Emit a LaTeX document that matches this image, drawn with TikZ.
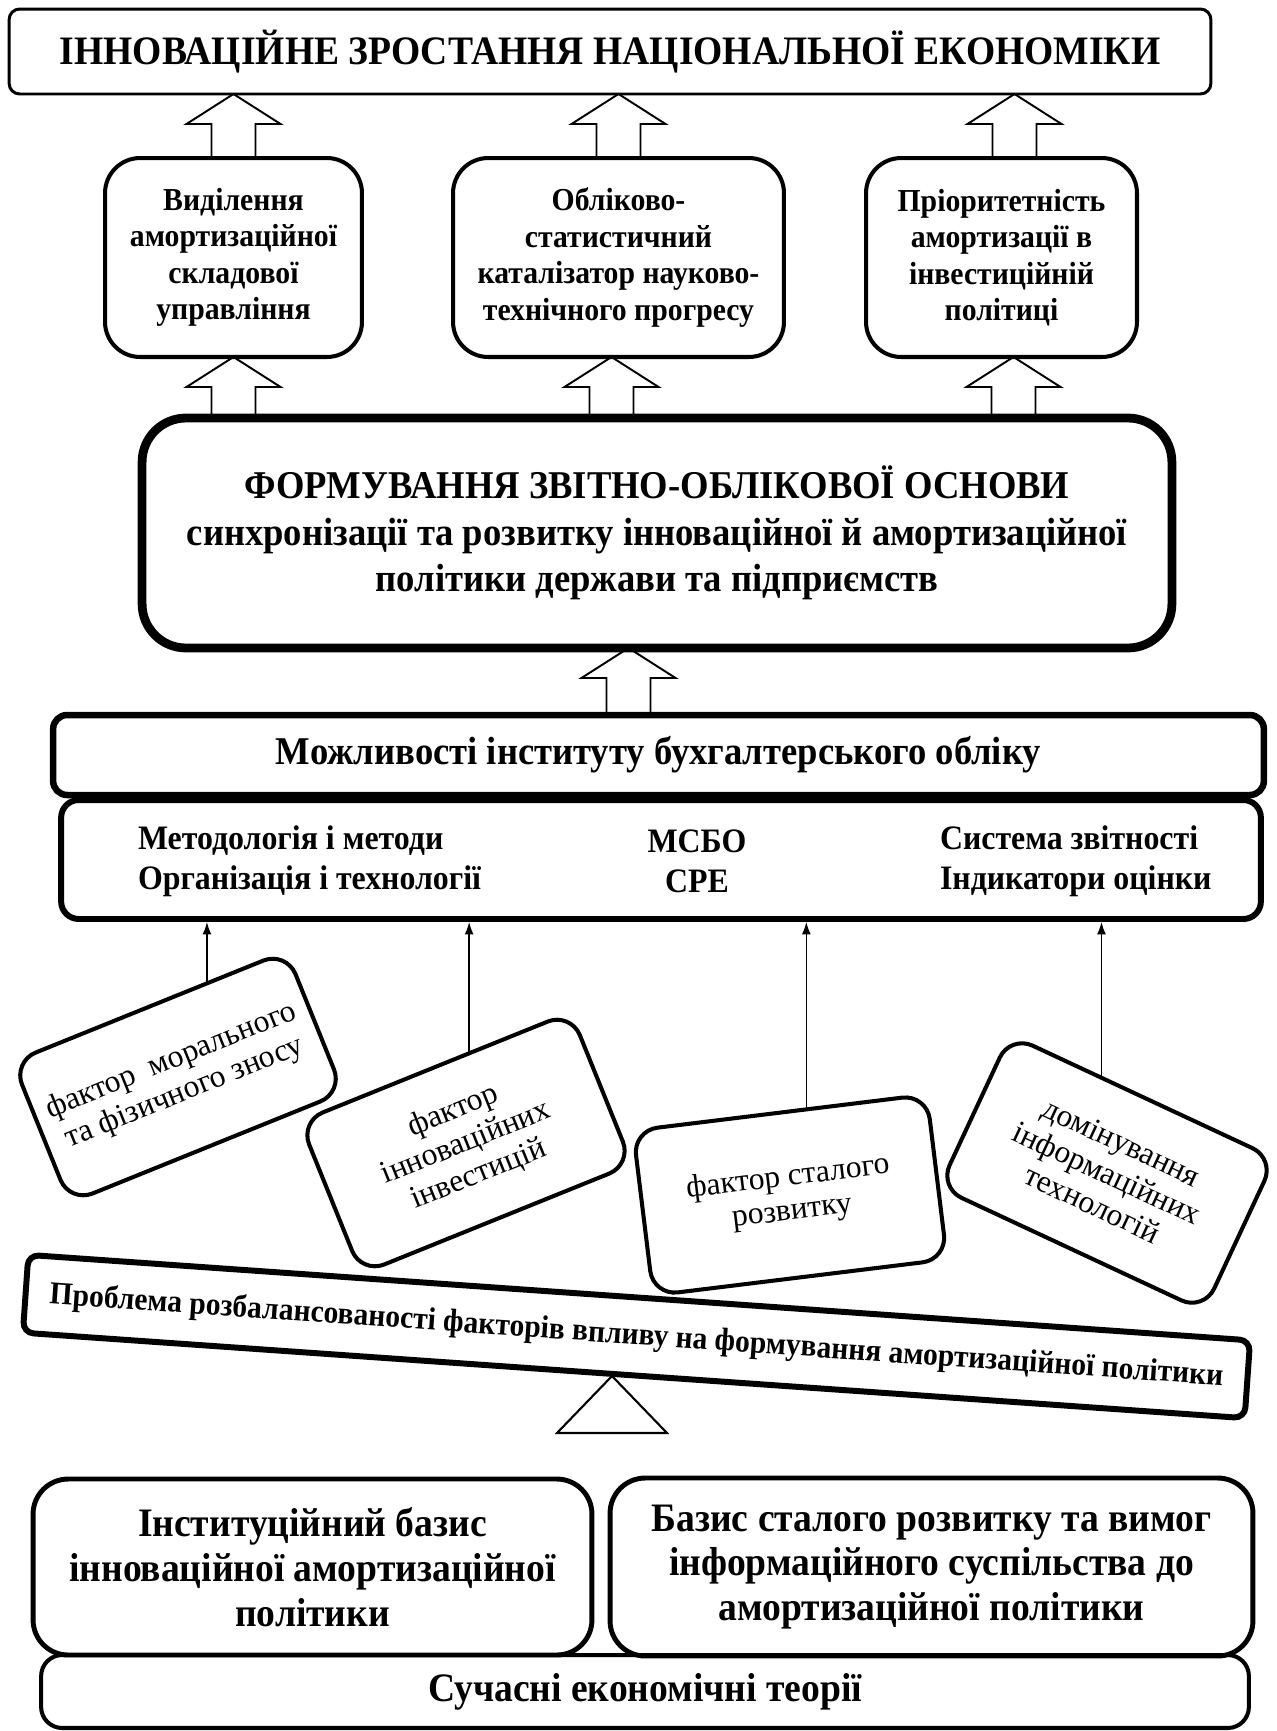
\documentclass[tikz,border=0pt]{standalone}
\usepackage{fontspec}
\setmainfont{Liberation Serif}
\newfontfamily\cnd{Liberation Serif}[FakeStretch=0.93]
\usetikzlibrary{arrows.meta,calc}
\newcommand{\hollowup}[2]{%
  \draw[hollow] ($(#1)+(-22,0)$) -- ($(#2)+(-22,30)$) -- ($(#2)+(-47,30)$)
    -- (#2) -- ($(#2)+(47,30)$) -- ($(#2)+(22,30)$) -- ($(#1)+(22,0)$);}

\begin{document}
\begin{tikzpicture}[x=0.02cm, y=-0.02cm,
  every node/.style={inner sep=0pt, outer sep=0pt, align=center},
  hollow/.style={line width=1.1pt},
  thinarrow/.style={line width=0.75pt, shorten >=1.7pt, -{Latex[length=7pt, width=5pt]}},
  goalbox/.style={draw, line width=2.3pt, rounded corners=20pt,
    minimum height=3.98cm, font=\cnd\fontsize{18.2}{20.7}\selectfont\bfseries},
  factbox/.style={draw, line width=2.3pt, rounded corners=14pt,
    font=\fontsize{18}{19.5}\selectfont},
  basebox/.style={draw, line width=2.8pt, rounded corners=20pt,
    font=\cnd\fontsize{23}{25.5}\selectfont\bfseries},
  methtext/.style={font=\cnd\fontsize{19.5}{22.7}\selectfont\bfseries}]

\useasboundingbox (0,0) rectangle (1276,1731);

% top level
\node[draw, line width=1.7pt, rounded corners=6pt, minimum width=24.04cm, minimum height=1.7cm,
  font=\cnd\fontsize{23}{27}\selectfont\bfseries] (top) at (610,51.5) {ІННОВАЦІЙНЕ ЗРОСТАННЯ НАЦІОНАЛЬНОЇ ЕКОНОМІКИ};

\node[goalbox, minimum width=5.14cm] (gl1) at (233.5,257.5) {Виділення\\амортизаційної\\складової\\управління};
\node[goalbox, minimum width=6.62cm] (gl2) at (618.5,257.5) {Обліково-\\статистичний\\каталізатор науково-\\технічного прогресу};
\node[goalbox, minimum width=5.42cm] (gl3) at (1001.5,257.5) {Пріоритетність\\амортизації в\\інвестиційній\\політиці};

\node[draw, line width=5pt, rounded corners=25pt, minimum width=20.6cm, minimum height=4.6cm,
  font=\cnd\fontsize{22.4}{26.5}\selectfont\bfseries] (core) at (657,533)
  {ФОРМУВАННЯ ЗВІТНО-ОБЛІКОВОЇ ОСНОВИ\\синхронізації та розвитку інноваційної й амортизаційної\\політики держави та підприємств};

% accounting
\node[draw, line width=3.7pt, rounded corners=8pt, minimum width=24.22cm, minimum height=1.6cm,
  font=\cnd\fontsize{22.4}{25}\selectfont\bfseries] (acc) at (658.5,755) {Можливості інституту бухгалтерського обліку};
\node[draw, line width=3.4pt, rounded corners=10pt, minimum width=24cm, minimum height=2.38cm] (meth) at (661,859.5) {};
\node[methtext, anchor=west, align=left] (m1) at (138,861) {Методологія і методи\\Організація і технології};
\node[methtext] (m2) at (697,861) {МСБО\\СРЕ};
\node[methtext, anchor=west, align=left] (m3) at (940,861) {Система звітності\\Індикатори оцінки};

% factors
\node[factbox, rotate=22, minimum width=5.9cm, minimum height=3.04cm] (fc1) at (178,1077) {фактор~ морального\\та фізичного зносу};
\node[factbox, rotate=22, minimum width=5.84cm, minimum height=3.28cm] (fc2) at (466,1143) {фактор\\інноваційних\\інвестицій};
\node[factbox, rotate=7, minimum width=5.92cm, minimum height=3.32cm] (fc3) at (790,1195) {фактор сталого\\розвитку};
\node[factbox, rotate=-25, minimum width=5.84cm, minimum height=3.36cm] (fc4) at (1107,1173) {домінування\\інформаційних\\технологій};

\node[draw, line width=3.4pt, rounded corners=6pt, rotate=-4, minimum width=24.5cm, minimum height=1.56cm,
  font=\cnd\fontsize{18.1}{20}\selectfont\bfseries] (prob) at (636.5,1336.5)
  {Проблема розбалансованості факторів впливу на формування амортизаційної політики};
\draw[line width=1.2pt] (612,1376) -- (667,1433) -- (557,1433) -- cycle;

% basis
\node[basebox, minimum width=11.18cm, minimum height=3.52cm] (bs1) at (312.5,1567) {Інституційний базис\\інноваційної амортизаційної\\політики};
\node[basebox, minimum width=12.86cm, minimum height=3.56cm] (bs2) at (931.5,1567) {Базис сталого розвитку та вимог\\інформаційного суспільства до\\амортизаційної політики};
\node[draw, line width=2.3pt, rounded corners=12pt, minimum width=24.16cm, minimum height=1.46cm,
  font=\cnd\fontsize{23}{26}\selectfont\bfseries] (thy) at (645,1691.5) {Сучасні економічні теорії};

% block arrows
\coordinate (u3) at ($(gl3.north)+(13,0)$);
\hollowup{gl1.north}{gl1.north |- top.south}
\hollowup{gl2.north}{gl2.north |- top.south}
\hollowup{u3}{u3 |- top.south}
\coordinate (l2) at ($(gl2.south)+(-7,0)$);
\coordinate (l3) at ($(gl3.south)+(12,0)$);
\hollowup{gl1.south |- core.north}{gl1.south}
\hollowup{l2 |- core.north}{l2}
\hollowup{l3 |- core.north}{l3}
\coordinate (mc) at ($(acc.north)+(-30,0)$);
\hollowup{mc}{mc |- core.south}

% factor arrows
\coordinate (s1) at ($(fc1.north)!0.42!(fc1.north east)$);
\coordinate (s2) at ($(fc2.north)!0.25!(fc2.north east)$);
\coordinate (s3) at ($(fc3.north)!0.18!(fc3.north east)$);
\coordinate (s4) at ($(fc4.north)!0.31!(fc4.north west)$);
\draw[thinarrow] (s1) -- (s1 |- meth.south);
\draw[thinarrow] (s2) -- (s2 |- meth.south);
\draw[thinarrow] (s3) -- (s3 |- meth.south);
\draw[thinarrow] (s4) -- (s4 |- meth.south);

\end{tikzpicture}
\end{document}
